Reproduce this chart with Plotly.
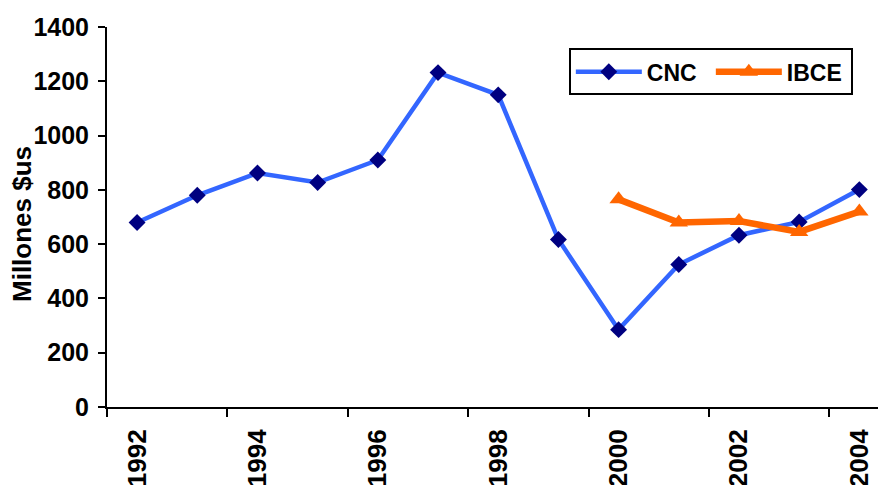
import plotly.graph_objects as go

years = ["1992", "1993", "1994", "1995", "1996", "1997", "1998",
         "1999", "2000", "2001", "2002", "2003", "2004"]
cnc = [680, 780, 862, 827, 910, 1232, 1150, 617, 285, 525, 633, 682, 801]
ibce_years = ["2000", "2001", "2002", "2003", "2004"]
ibce = [765, 680, 685, 645, 720]
y_ticks = [0, 200, 400, 600, 800, 1000, 1200, 1400]
label_years = ["1992", "1994", "1996", "1998", "2000", "2002", "2004"]
y_title = "Millones $us"

idx = {y: i for i, y in enumerate(years)}
FONT = "Liberation Sans, Arial, sans-serif"

fig = go.Figure()
fig.add_trace(go.Scatter(
    x=[idx[y] for y in years], y=cnc, name="CNC", mode="lines+markers",
    line=dict(color="#3366FF", width=4.5),
    marker=dict(symbol="diamond", size=13, color="#000080"),
))
fig.add_trace(go.Scatter(
    x=[idx[y] for y in ibce_years], y=ibce, name="IBCE", mode="lines+markers",
    line=dict(color="#FF6600", width=6.5),
    marker=dict(symbol="triangle-up", size=16, color="#FF6600"),
))

fig.update_layout(
    width=878, height=485,
    margin=dict(l=107, r=0, t=27, b=78),
    plot_bgcolor="white", paper_bgcolor="white",
    font=dict(family=FONT, size=24, color="black", weight="bold"),
    showlegend=True,
    legend=dict(
        orientation="h", x=0.599, y=0.944, xanchor="left", yanchor="top",
        bordercolor="black", borderwidth=2, bgcolor="white",
        font=dict(family=FONT, size=23, color="black", weight="bold"),
        itemwidth=66, entrywidth=59,
    ),
    xaxis=dict(
        range=[-0.5, 12.31],
        automargin=False,
        tickmode="array",
        tickvals=[idx[y] for y in label_years],
        ticktext=label_years,
        tickangle=-90,
        ticks="",
        ticklabelstandoff=10,
        showline=True, linecolor="black", linewidth=2,
        showgrid=False, zeroline=False,
        tickfont=dict(family=FONT, size=26, color="black", weight="bold"),
        minor=dict(tick0=-0.5, dtick=2, ticks="outside", ticklen=8,
                   tickwidth=2, tickcolor="black", showgrid=False),
    ),
    yaxis=dict(
        range=[0, 1400],
        automargin=False,
        tickmode="array", tickvals=y_ticks,
        ticks="outside", ticklen=7, tickwidth=2, tickcolor="black",
        ticklabelstandoff=4,
        showline=True, linecolor="black", linewidth=2,
        showgrid=False, zeroline=False,
        tickfont=dict(family=FONT, size=25, color="black", weight="bold"),
    ),
    annotations=[dict(
        text=y_title, textangle=-90, showarrow=False,
        xref="paper", yref="paper", x=0, y=0.5,
        xanchor="center", yanchor="middle", xshift=-85, yshift=-7,
        font=dict(family=FONT, size=26, color="black", weight="bold"),
    )],
)

fig.write_html("out.html", config={"displayModeBar": False},
               post_script="document.body.style.margin='0';document.body.style.overflow='hidden';")
